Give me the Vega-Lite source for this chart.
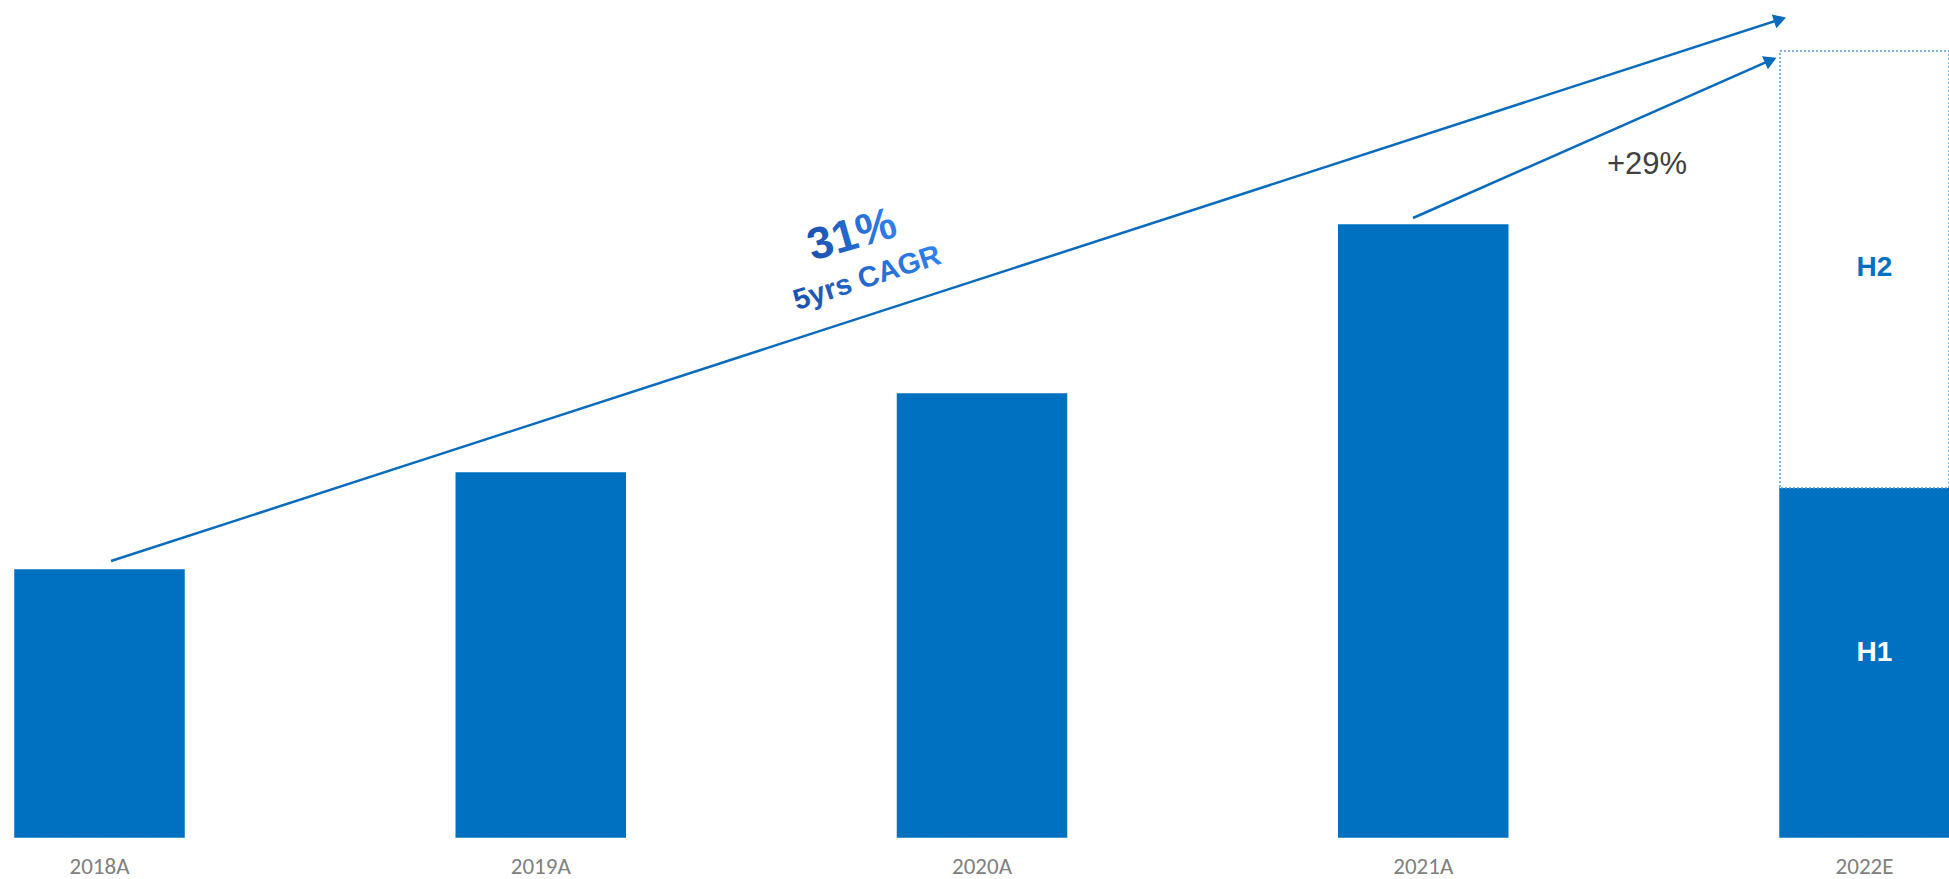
{
  "$schema": "https://vega.github.io/schema/vega-lite/v6.json",
  "width": 1949,
  "height": 837,
  "autosize": "none",
  "padding": {"left": 0, "top": 0, "right": 0, "bottom": 42},
  "background": "#ffffff",
  "config": {"view": {"stroke": null}},
  "datasets": {
    "bars": [
      {"year": "2018A", "segment": "Actual", "value": 267},
      {"year": "2019A", "segment": "Actual", "value": 364},
      {"year": "2020A", "segment": "Actual", "value": 443},
      {"year": "2021A", "segment": "Actual", "value": 612},
      {"year": "2022E", "segment": "H1", "value": 349},
      {"year": "2022E", "segment": "H2", "value": 437}
    ],
    "seglabels": [
      {"year": "2022E", "label": "H1", "value": 184},
      {"year": "2022E", "label": "H2", "value": 569}
    ],
    "arrows": [
      {"arrow": "cagr", "x": 2018.0261, "y": 276, "x_end": 2021.8085, "y_end": 817.5},
      {"arrow": "yoy", "x": 2020.9768, "y": 619, "x_end": 2021.7874, "y_end": 776.8}
    ],
    "notes": [
      {"note": "31%", "x": 2019.7054, "y": 602},
      {"note": "5yrs CAGR", "x": 2019.7394, "y": 559},
      {"note": "+29%", "x": 2021.5071, "y": 672}
    ]
  },
  "resolve": {"scale": {"x": "independent"}},
  "layer": [
    {
      "data": {"name": "bars"},
      "mark": {"type": "bar", "strokeWidth": 1.5},
      "encoding": {
        "x": {
          "field": "year", "type": "nominal", "sort": null,
          "scale": {"type": "band", "domain": ["2018A", "2019A", "2020A", "2021A", "2022E"], "paddingInner": 0.617, "paddingOuter": 0.017, "align": 1},
          "axis": {"title": null, "domain": false, "ticks": false, "tickSize": 0, "grid": false, "labelPadding": 29, "labelBaseline": "middle", "labelAngle": 0, "labelFont": "Carlito, Liberation Sans", "labelFontSize": 23, "labelColor": "#808080"}
        },
        "y": {"field": "value", "type": "quantitative", "stack": "zero", "scale": {"domain": [0, 837], "nice": false}, "axis": null},
        "fill": {"field": "segment", "type": "nominal", "scale": {"domain": ["Actual", "H1", "H2"], "range": ["#0070c0", "#0070c0", "#ffffff"]}, "legend": null},
        "stroke": {"field": "segment", "type": "nominal", "scale": {"domain": ["Actual", "H1", "H2"], "range": ["#0070c0", "#0070c0", "#5b9bd5"]}, "legend": null},
        "strokeDash": {"field": "segment", "type": "nominal", "scale": {"domain": ["Actual", "H1", "H2"], "range": [[1, 0], [1, 0], [2, 2]]}, "legend": null},
        "order": {"field": "segment"}
      }
    },
    {
      "data": {"name": "seglabels"},
      "mark": {"type": "text", "font": "Liberation Sans", "fontWeight": "bold", "fontSize": 28, "align": "center", "baseline": "middle", "dx": 10},
      "encoding": {
        "x": {"field": "year", "type": "nominal", "sort": null, "bandPosition": 0.5, "scale": {"type": "band", "domain": ["2018A", "2019A", "2020A", "2021A", "2022E"], "paddingInner": 0.617, "paddingOuter": 0.017, "align": 1}, "axis": null},
        "y": {"field": "value", "type": "quantitative", "scale": {"domain": [0, 837], "nice": false}, "axis": null},
        "text": {"field": "label"},
        "color": {"field": "label", "type": "nominal", "scale": {"domain": ["H1", "H2"], "range": ["#ffffff", "#0070c0"]}, "legend": null}
      }
    },
    {
      "data": {"name": "arrows"},
      "layer": [
        {
          "mark": {"type": "rule", "color": "#0a6bbd", "strokeWidth": 2.5},
          "encoding": {
            "x": {"field": "x", "type": "quantitative", "scale": {"domain": [2017.7745, 2022.1915], "nice": false, "zero": false}, "axis": null},
            "x2": {"field": "x_end"},
            "y": {"field": "y", "type": "quantitative", "scale": {"domain": [0, 837], "nice": false}, "axis": null},
            "y2": {"field": "y_end"}
          }
        },
        {
          "transform": [{"filter": "datum.arrow == 'cagr'"}],
          "mark": {"type": "point", "shape": "triangle-up", "filled": true, "color": "#0a6bbd", "size": 210, "angle": 72, "opacity": 1},
          "encoding": {
            "x": {"field": "x_end", "type": "quantitative", "scale": {"domain": [2017.7745, 2022.1915], "nice": false, "zero": false}, "axis": null},
            "y": {"field": "y_end", "type": "quantitative", "scale": {"domain": [0, 837], "nice": false}, "axis": null}
          }
        },
        {
          "transform": [{"filter": "datum.arrow == 'yoy'"}],
          "mark": {"type": "point", "shape": "triangle-up", "filled": true, "color": "#0a6bbd", "size": 210, "angle": 66, "opacity": 1},
          "encoding": {
            "x": {"field": "x_end", "type": "quantitative", "scale": {"domain": [2017.7745, 2022.1915], "nice": false, "zero": false}, "axis": null},
            "y": {"field": "y_end", "type": "quantitative", "scale": {"domain": [0, 837], "nice": false}, "axis": null}
          }
        }
      ]
    },
    {
      "data": {"name": "notes"},
      "layer": [
        {
          "transform": [{"filter": "datum.note == '31%'"}],
          "mark": {"type": "text", "font": "Liberation Sans", "fontWeight": "bold", "fontSize": 45, "angle": -16, "align": "center", "baseline": "middle",
            "color": {"gradient": "linear", "x1": 0, "y1": 0, "x2": 1, "y2": 0, "stops": [{"offset": 0, "color": "#1a50ae"}, {"offset": 1, "color": "#2f82f0"}]}},
          "encoding": {
            "x": {"field": "x", "type": "quantitative", "scale": {"domain": [2017.7745, 2022.1915], "nice": false, "zero": false}, "axis": null},
            "y": {"field": "y", "type": "quantitative", "scale": {"domain": [0, 837], "nice": false}, "axis": null},
            "text": {"field": "note"}
          }
        },
        {
          "transform": [{"filter": "datum.note == '5yrs CAGR'"}],
          "mark": {"type": "text", "font": "Liberation Sans", "fontWeight": "bold", "fontSize": 29, "angle": -18, "align": "center", "baseline": "middle",
            "color": {"gradient": "linear", "x1": 0, "y1": 0, "x2": 1, "y2": 0, "stops": [{"offset": 0, "color": "#1a50ae"}, {"offset": 1, "color": "#2f82f0"}]}},
          "encoding": {
            "x": {"field": "x", "type": "quantitative", "scale": {"domain": [2017.7745, 2022.1915], "nice": false, "zero": false}, "axis": null},
            "y": {"field": "y", "type": "quantitative", "scale": {"domain": [0, 837], "nice": false}, "axis": null},
            "text": {"field": "note"}
          }
        },
        {
          "transform": [{"filter": "datum.note == '+29%'"}],
          "mark": {"type": "text", "font": "Liberation Sans", "fontSize": 31, "align": "center", "baseline": "middle", "color": "#404040"},
          "encoding": {
            "x": {"field": "x", "type": "quantitative", "scale": {"domain": [2017.7745, 2022.1915], "nice": false, "zero": false}, "axis": null},
            "y": {"field": "y", "type": "quantitative", "scale": {"domain": [0, 837], "nice": false}, "axis": null},
            "text": {"field": "note"}
          }
        }
      ]
    }
  ]
}
